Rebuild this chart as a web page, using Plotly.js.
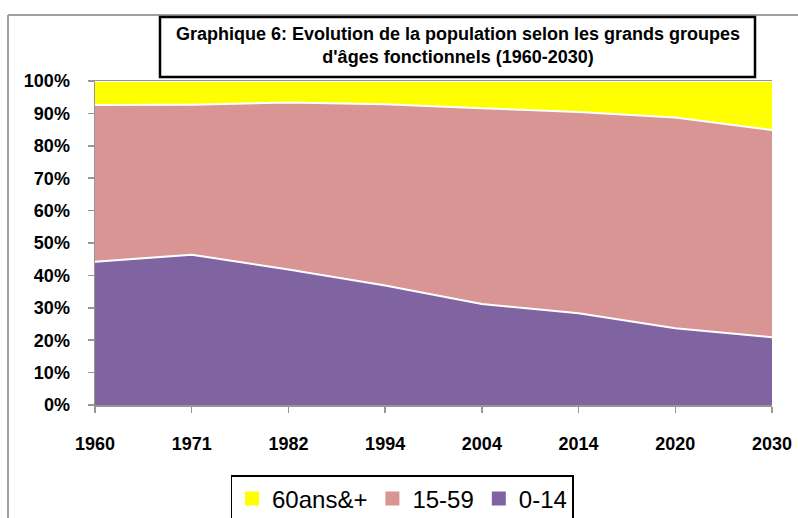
<!DOCTYPE html>
<html>
<head>
<meta charset="utf-8">
<script src="https://cdn.plot.ly/plotly-3.0.1.min.js"></script>
<style>html,body{margin:0;padding:0;background:#fff;}#chart{width:798px;height:518px;}</style>
</head>
<body>
<div id="chart"></div>
<script>
// Data (percent of population)
var years = ['1960','1971','1982','1994','2004','2014','2020','2030'];
var age0_14  = [44.2, 46.4, 41.8, 36.9, 31.2, 28.3, 23.7, 20.9];
var age15_59 = [48.4, 46.3, 51.6, 55.9, 60.4, 62.1, 65.0, 64.0];
var age60p   = [7.4, 7.3, 6.6, 7.2, 8.4, 9.6, 11.3, 15.1];
var seriesNames = ['0-14', '15-59', '60ans&+'];
var yTicks = [0,10,20,30,40,50,60,70,80,90,100];
var yTickText = yTicks.map(function(v){return v + '%';});

var colors = ['#8064A2', '#D99594', '#FFFF00'];
var vals = [age0_14, age15_59, age60p];

var traces = vals.map(function(v, i){
  return {
    type: 'scatter', mode: 'lines', x: years, y: v,
    name: seriesNames[i], stackgroup: 'one',
    fillcolor: colors[i], showlegend: false,
    line: {color: '#FFFFFF', width: 2}
  };
});
// legend-only entries with square swatches
vals.forEach(function(v, i){
  traces.push({
    type: 'scatter', mode: 'markers', x: [null], y: [null],
    name: seriesNames[i], showlegend: true,
    marker: {symbol: 'square', size: 14, color: colors[i]}
  });
});

// pixel -> paper helpers (plot area 95..772 x, 81..405 y)
function px(x){ return (x - 95) / 677; }
function py(y){ return (405 - y) / 324; }

var FONT = 'Liberation Sans, Arial, sans-serif';

var layout = {
  width: 798, height: 518,
  margin: {l: 95, r: 26, t: 81, b: 113, autoexpand: false},
  paper_bgcolor: '#FFFFFF', plot_bgcolor: '#FFFFFF',
  showlegend: true,
  legend: {
    orientation: 'h', traceorder: 'reversed',
    x: px(402), xanchor: 'center', y: py(475), yanchor: 'top',
    bordercolor: '#000000', borderwidth: 1.5,
    font: {family: FONT, size: 24, color: '#000000'},
    itemwidth: 30, tracegroupgap: 0
  },
  xaxis: {
    type: 'category', range: [0, 7],
    showgrid: false, zeroline: false,
    showline: true, linecolor: '#969696', linewidth: 1.5, mirror: true,
    ticks: 'outside', ticklen: 6, tickcolor: '#969696', tickwidth: 1.5,
    ticklabelstandoff: 16,
    tickfont: {family: FONT, size: 18, color: '#000000', weight: 'bold'}
  },
  yaxis: {
    range: [0, 100], tickvals: yTicks, ticktext: yTickText,
    showgrid: false, zeroline: false,
    showline: true, linecolor: '#969696', linewidth: 1.5,
    ticks: 'outside', ticklen: 6, tickcolor: '#969696', tickwidth: 1.5,
    ticklabelstandoff: 14,
    tickfont: {family: FONT, size: 18, color: '#000000', weight: 'bold'}
  },
  shapes: [
    // outer chart border (left & top)
    {type: 'line', xref: 'paper', yref: 'paper', x0: px(8), x1: px(8), y0: py(15), y1: py(540),
     line: {color: '#A0A0A0', width: 2}},
    {type: 'line', xref: 'paper', yref: 'paper', x0: px(8), x1: px(820), y0: py(15), y1: py(15),
     line: {color: '#A0A0A0', width: 2}},
    // title box
    {type: 'rect', xref: 'paper', yref: 'paper', x0: px(160), x1: px(755), y0: py(77), y1: py(17),
     line: {color: '#000000', width: 2.5}, fillcolor: '#FFFFFF'}
  ],
  annotations: [
    {xref: 'paper', yref: 'paper', x: px(458), y: py(46), xanchor: 'center', yanchor: 'middle',
     showarrow: false, align: 'center',
     text: '<b>Graphique 6: Evolution de la population selon les grands groupes<br>d\'âges fonctionnels (1960-2030)</b>',
     font: {family: FONT, size: 18, color: '#000000'}}
  ]
};

Plotly.newPlot('chart', traces, layout, {displayModeBar: false, staticPlot: true});
</script>
</body>
</html>
